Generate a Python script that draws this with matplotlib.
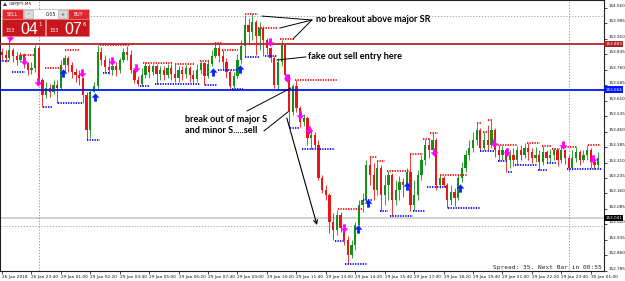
import numpy as np
import matplotlib
matplotlib.use("Agg")
import matplotlib.pyplot as plt
from matplotlib.path import Path
from matplotlib.patches import Rectangle, Polygon
from matplotlib.transforms import ScaledTranslation

# ── GBPJPY M5 chart, one candle per 10 minutes ───────────────────────────────
first_open = 153.846
closes = [
    153.831, 153.817, 153.856, 153.826, 153.807, 153.831, 153.792, 153.759, 153.768, 153.865,
    153.710, 153.637, 153.671, 153.652, 153.686, 153.671, 153.783, 153.817, 153.783, 153.749,
    153.734, 153.720, 153.637, 153.468, 153.652, 153.681, 153.846, 153.807, 153.773, 153.759,
    153.778, 153.759, 153.807, 153.846, 153.831, 153.759, 153.710, 153.691, 153.734, 153.778,
    153.749, 153.778, 153.739, 153.759, 153.734, 153.768, 153.739, 153.720, 153.759, 153.739,
    153.768, 153.734, 153.715, 153.759, 153.792, 153.729, 153.788, 153.826, 153.865, 153.826,
    153.797, 153.749, 153.681, 153.729, 153.807, 153.875, 153.977, 153.943, 153.991, 153.923,
    153.962, 153.904, 153.865, 153.817, 153.686, 153.797, 153.880, 153.734, 153.555, 153.681,
    153.574, 153.506, 153.526, 153.429, 153.443, 153.395, 153.235, 153.177, 153.152, 153.021,
    152.983, 153.055, 152.992, 152.934, 152.861, 152.910, 153.007, 153.104, 153.128, 153.298,
    153.249, 153.177, 153.283, 153.152, 153.201, 153.249, 153.128, 153.177, 153.215, 153.201,
    153.264, 153.104, 153.152, 153.249, 153.322, 153.395, 153.371, 153.419, 153.201, 153.235,
    153.201, 153.128, 153.167, 153.138, 153.235, 153.283, 153.346, 153.380, 153.419, 153.468,
    153.380, 153.419, 153.395, 153.468, 153.371, 153.346, 153.371, 153.322, 153.346, 153.322,
    153.371, 153.346, 153.380, 153.361, 153.332, 153.346, 153.312, 153.361, 153.332, 153.346,
    153.371, 153.322, 153.371, 153.332, 153.283, 153.332, 153.361, 153.322, 153.346, 153.371,
    153.312, 153.298, 153.332]
highs = [
    153.865, 153.856, 153.914, 153.865, 153.846, 153.846, 153.841, 153.797, 153.797, 153.880,
    153.875, 153.720, 153.700, 153.691, 153.710, 153.710, 153.807, 153.831, 153.826, 153.797,
    153.768, 153.759, 153.725, 153.652, 153.662, 153.700, 153.880, 153.870, 153.831, 153.817,
    153.783, 153.797, 153.817, 153.865, 153.875, 153.856, 153.759, 153.729, 153.768, 153.797,
    153.788, 153.788, 153.788, 153.778, 153.778, 153.788, 153.788, 153.788, 153.778, 153.778,
    153.783, 153.778, 153.759, 153.788, 153.802, 153.797, 153.807, 153.856, 153.889, 153.880,
    153.856, 153.817, 153.759, 153.749, 153.836, 153.904, 154.025, 154.011, 154.030, 154.001,
    153.991, 153.972, 153.914, 153.870, 153.826, 153.817, 153.904, 153.889, 153.739, 153.691,
    153.710, 153.584, 153.545, 153.535, 153.477, 153.458, 153.419, 153.249, 153.201, 153.162,
    153.065, 153.080, 153.070, 153.002, 152.953, 152.934, 153.021, 153.128, 153.162, 153.322,
    153.337, 153.307, 153.317, 153.298, 153.249, 153.269, 153.259, 153.225, 153.244, 153.235,
    153.283, 153.351, 153.225, 153.273, 153.346, 153.424, 153.429, 153.453, 153.429, 153.249,
    153.244, 153.210, 153.201, 153.186, 153.249, 153.312, 153.371, 153.419, 153.458, 153.501,
    153.477, 153.458, 153.492, 153.516, 153.477, 153.395, 153.390, 153.380, 153.371, 153.380,
    153.390, 153.395, 153.404, 153.404, 153.380, 153.385, 153.371, 153.390, 153.371, 153.375,
    153.380, 153.375, 153.395, 153.375, 153.346, 153.371, 153.385, 153.371, 153.371, 153.395,
    153.380, 153.322, 153.361]
lows = [
    153.807, 153.797, 153.807, 153.797, 153.783, 153.797, 153.768, 153.734, 153.739, 153.749,
    153.691, 153.579, 153.623, 153.628, 153.642, 153.598, 153.662, 153.749, 153.749, 153.720,
    153.700, 153.686, 153.598, 153.419, 153.429, 153.652, 153.662, 153.783, 153.744, 153.739,
    153.734, 153.729, 153.744, 153.797, 153.807, 153.744, 153.695, 153.681, 153.681, 153.720,
    153.720, 153.734, 153.691, 153.710, 153.710, 153.720, 153.710, 153.700, 153.700, 153.710,
    153.720, 153.700, 153.695, 153.700, 153.739, 153.686, 153.720, 153.778, 153.817, 153.797,
    153.759, 153.720, 153.662, 153.671, 153.720, 153.788, 153.822, 153.880, 153.904, 153.831,
    153.856, 153.826, 153.836, 153.797, 153.671, 153.662, 153.778, 153.710, 153.477, 153.540,
    153.555, 153.482, 153.487, 153.395, 153.375, 153.380, 153.225, 153.162, 153.128, 152.968,
    152.934, 152.958, 152.973, 152.910, 152.818, 152.847, 152.886, 153.002, 153.070, 153.118,
    153.201, 153.128, 153.152, 153.075, 153.104, 153.128, 153.050, 153.104, 153.128, 153.143,
    153.196, 153.075, 153.080, 153.128, 153.225, 153.298, 153.332, 153.361, 153.177, 153.186,
    153.191, 153.089, 153.104, 153.099, 153.128, 153.215, 153.264, 153.322, 153.361, 153.395,
    153.366, 153.371, 153.371, 153.380, 153.337, 153.317, 153.322, 153.264, 153.283, 153.293,
    153.298, 153.322, 153.332, 153.322, 153.307, 153.312, 153.273, 153.298, 153.307, 153.312,
    153.322, 153.293, 153.307, 153.303, 153.269, 153.273, 153.312, 153.298, 153.312, 153.322,
    153.283, 153.278, 153.283]

time_labels = ["26 Jan 2018", "26 Jan 23:40", "29 Jan 01:00", "29 Jan 02:20", "29 Jan 03:40",
               "29 Jan 05:00", "29 Jan 06:20", "29 Jan 07:40", "29 Jan 09:00", "29 Jan 10:20",
               "29 Jan 11:40", "29 Jan 13:00", "29 Jan 14:20", "29 Jan 15:40", "29 Jan 17:00",
               "29 Jan 18:20", "29 Jan 19:40", "29 Jan 21:00", "29 Jan 22:20", "29 Jan 23:40",
               "30 Jan 01:00"]
LABEL_EVERY = 8
day_breaks = [10, 154]

price_ticks = [154.060, 153.985, 153.910, 153.835, 153.760, 153.685, 153.610, 153.535,
               153.460, 153.385, 153.310, 153.235, 153.160, 153.085, 153.010, 152.935,
               152.860, 152.785]

major_res = 153.883
major_sup = 153.664
bid_price = 153.041
ask_level = 153.002
order_level = 154.021

# fractal levels (start bar, end bar, price)
res_levels = [(4.9, 9.0, 153.831), (11.7, 16.6, 153.768), (17.1, 21.2, 153.856),
              (26.6, 34.8, 153.880), (38.3, 46.5, 153.792), (47.0, 52.4, 153.788),
              (53.8, 56.5, 153.802), (57.9, 59.8, 153.889), (59.8, 64.1, 153.856),
              (66.0, 69.6, 154.030), (69.6, 75.0, 153.962), (75.5, 79.6, 153.909),
              (79.6, 91.3, 153.710), (91.3, 97.8, 153.084), (100.0, 101.9, 153.337),
              (101.9, 104.1, 153.317), (104.6, 110.9, 153.269), (110.9, 114.4, 153.351),
              (114.4, 116.3, 153.424), (116.3, 118.5, 153.453), (119.0, 126.4, 153.249),
              (129.1, 130.4, 153.501), (130.7, 132.1, 153.458), (132.1, 133.4, 153.516),
              (134.0, 140.0, 153.395), (142.7, 146.2, 153.404), (146.7, 149.5, 153.390),
              (149.5, 151.6, 153.375), (153.0, 156.3, 153.385), (159.2, 162.5, 153.395)]
sup_levels = [(-0.5, 2.2, 153.802), (2.7, 6.3, 153.749), (11.1, 13.6, 153.579),
              (15.2, 21.7, 153.598), (23.1, 26.6, 153.419), (27.4, 29.3, 153.744),
              (37.5, 40.2, 153.681), (41.6, 53.8, 153.691), (55.2, 58.4, 153.686),
              (58.7, 63.9, 153.759), (62.5, 65.5, 153.666), (66.0, 70.1, 153.822),
              (71.5, 74.7, 153.826), (74.7, 77.7, 153.662), (78.3, 81.0, 153.477),
              (81.5, 90.5, 153.375), (90.5, 93.2, 152.929), (93.2, 99.2, 152.818),
              (98.1, 100.8, 153.128), (102.7, 104.9, 153.075), (105.4, 111.7, 153.050),
              (111.7, 114.9, 153.075), (115.5, 120.9, 153.191), (121.2, 129.9, 153.089),
              (129.9, 134.0, 153.366), (134.8, 137.5, 153.317), (137.5, 138.9, 153.264),
              (139.4, 145.4, 153.298), (145.7, 148.1, 153.273), (148.1, 150.8, 153.307),
              (153.5, 163.0, 153.278)]

sell_x = [2.2, 6.0, 9.8, 21.7, 29.9, 36.4, 72.8, 77.4, 81.0, 83.4, 92.9, 117.4, 133.7, 137.2, 152.4, 160.6]
sell_y = [153.919, 153.802, 153.700, 153.744, 153.802, 153.768, 153.894, 153.720, 153.540,
          153.468, 152.992, 153.361, 153.404, 153.361, 153.395, 153.327]
buy_x = [16.6, 25.3, 57.3, 64.7, 96.7, 99.5, 110.1, 124.5]
buy_y = [153.744, 153.628, 153.749, 153.763, 152.987, 153.113, 153.196, 153.186]

BULL, BEAR = "#13901a", "#ee1414"
NOTE_FONT = dict(family="Lato", fontweight="bold", fontsize=6.6, color="black")

fig = plt.figure(figsize=(6.25, 2.81), dpi=100)
ax = fig.add_axes([0, 10 / 281, 604 / 625, 271 / 281])
ax.set_xlim(-0.54, 163.6)
ax.set_ylim(152.784, 154.098)

# guide lines
ax.axhline(order_level, color="#9a9a9a", lw=0.6, ls=(0, (1.5, 2)), zorder=1)
ax.axhline(ask_level, color="#9a9a9a", lw=0.6, ls=(0, (1.5, 2)), zorder=1)
ax.axhline(bid_price, color="#c9c9c9", lw=1.2, zorder=1)
for d in day_breaks:
    ax.axvline(d, color="#8a8a8a", lw=0.6, ls=(0, (1.5, 2)), zorder=1)

# candles
c = np.array(closes)
o = np.r_[first_open, c[:-1]]
hi = np.maximum(np.array(highs), np.maximum(o, c))
lo = np.minimum(np.array(lows), np.minimum(o, c))
x = np.arange(len(c))
col = np.where(c >= o, BULL, BEAR)
ax.vlines(x, lo, hi, colors=col, lw=0.6, zorder=3)
ax.bar(x, np.maximum(np.abs(c - o), 0.003), bottom=np.minimum(o, c), width=0.62,
       color=col, lw=0, zorder=3)

# fractal levels
for s, e, p in res_levels:
    ax.plot([s, e], [p, p], color="#ff0000", lw=1.3, ls=(0, (0.7, 0.7)), zorder=4)
for s, e, p in sup_levels:
    ax.plot([s, e], [p, p], color="#0000ff", lw=1.3, ls=(0, (0.7, 0.7)), zorder=4)

# major S/R
ax.axhline(major_res, color="#b3262b", lw=1.3, zorder=5)
ax.axhline(major_sup, color="#0018ff", lw=1.3, zorder=5)

# arrows
down = Path([(-0.17, 0.5), (0.17, 0.5), (0.17, 0.02), (0.47, 0.02), (0, -0.5),
             (-0.47, 0.02), (-0.17, 0.02), (-0.17, 0.5)], closed=True)
up = Path([(vx, -vy) for vx, vy in down.vertices], closed=True)
ax.plot(sell_x, sell_y, ls="none", marker=down, ms=6, color="#ff00ff", mew=0, zorder=6)
ax.plot(buy_x, buy_y, ls="none", marker=up, ms=6, color="#0a22ff", mew=0, zorder=6)

# annotations
for tgt in [(70.7, 154.020), (75.5, 153.962), (79.1, 153.909)]:
    ax.plot([84.2, tgt[0]], [154.001, tgt[1]], color="black", lw=0.7, zorder=7)
ax.text(85.3, 154.004, "no breakout above major SR", ha="left", va="center", zorder=7, **NOTE_FONT)
ax.plot([82.6, 74.7], [153.822, 153.807], color="black", lw=0.7, zorder=7)
ax.text(83.2, 153.822, "fake out sell entry here", ha="left", va="center", zorder=7, **NOTE_FONT)
ax.plot([66.6, 78.5], [153.560, 153.671], color="black", lw=0.7, zorder=7)
ax.plot([71.2, 77.7], [153.463, 153.555], color="black", lw=0.7, zorder=7)
ax.text(49.7, 153.521, "break out of major S", ha="left", va="center", zorder=7, **NOTE_FONT)
ax.text(49.7, 153.463, "and minor S.....sell", ha="left", va="center", zorder=7, **NOTE_FONT)
ax.annotate("", xy=(85.6, 153.007), xytext=(77.4, 153.526), zorder=7,
            arrowprops=dict(arrowstyle="->", color="black", lw=0.8,
                            mutation_scale=7, shrinkA=0, shrinkB=0))

# axes styling
for sp in ax.spines.values():
    sp.set_color("#202020")
    sp.set_linewidth(0.8)
ax.yaxis.tick_right()
ax.set_yticks(price_ticks)
ax.set_yticklabels([f"{p:.3f}" for p in price_ticks], fontsize=3.0, color="#111")
ax.tick_params(axis="y", length=2, width=0.5, pad=1.5)
for lab in ax.get_yticklabels():
    lab.set_verticalalignment("bottom")
ax.set_xticks(np.arange(len(time_labels)) * LABEL_EVERY)
ax.set_xticklabels(time_labels, fontsize=3.1, color="#111", ha="left")
ax.tick_params(axis="x", length=2, width=0.5, pad=1.2)

# price tags on the right scale
for p, fc in [(major_res, "#a82327"), (major_sup, "#0018ff"), (bid_price, "#000000")]:
    ax.text(1.002, p, f"{p:.3f}", transform=ax.get_yaxis_transform(), ha="left", va="center",
            fontsize=3.0, color="white", clip_on=False, zorder=8,
            bbox=dict(boxstyle="square,pad=0.25", fc=fc, ec="none"))

ax.text(602 / 604, 3 / 271, "Spread: 35. Next Bar in 00:55", transform=ax.transAxes,
        ha="right", va="center", family="DejaVu Sans Mono", fontsize=4.4, color="#222")

# one-click trading panel (pixel overlay)
ov = fig.add_axes([0, 0, 1, 1])
ov.set_xlim(0, 625)
ov.set_ylim(281, 0)
ov.axis("off")
ov.patch.set_alpha(0)
ov.add_patch(Polygon([(3, 6), (7, 6), (5, 2.5)], closed=True, fc="#333", ec="none"))
ov.text(9, 4.3, "GBPJPY,M5", fontsize=3.2, color="#222", va="center", ha="left")
ov.add_patch(Rectangle((2, 9), 21, 10, fc="#e02a2f", ec="#f3b0b0", lw=0.5))
ov.text(12.5, 14, "SELL", fontsize=3.4, color="white", ha="center", va="center")
ov.add_patch(Rectangle((23, 9), 45, 10, fc="white", ec="#b0b0b0", lw=0.5))
ov.add_patch(Rectangle((24, 10), 9, 8, fc="#dcdcdc", ec="#a0a0a0", lw=0.4))
ov.add_patch(Rectangle((58, 10), 9, 8, fc="#dcdcdc", ec="#a0a0a0", lw=0.4))
ov.text(28.5, 14, "-", fontsize=3.4, color="#333", ha="center", va="center")
ov.text(62.5, 14, "+", fontsize=3.4, color="#333", ha="center", va="center")
ov.text(51, 14, "0.05", fontsize=3.4, color="#222", ha="center", va="center")
ov.add_patch(Rectangle((68, 9), 21, 10, fc="#e02a2f", ec="#f3b0b0", lw=0.5))
ov.text(78.5, 14, "BUY", fontsize=3.4, color="white", ha="center", va="center")
for x0, small, big, sup in [(2, "153", "04", "1"), (46, "153", "07", "6")]:
    ov.add_patch(Rectangle((x0, 19), 43, 17, fc="#c8161d", ec="#e67a7a", lw=0.5))
    ov.text(x0 + 4, 30, small, fontsize=3.6, color="white", ha="left", va="center")
    ov.text(x0 + 18, 33.5, big, family="Liberation Sans", fontsize=11.5, color="white",
            ha="left", va="baseline")
    ov.text(x0 + 36.5, 24, sup, fontsize=4, color="white", ha="left", va="center")

fig.savefig("out.png", dpi=100)
